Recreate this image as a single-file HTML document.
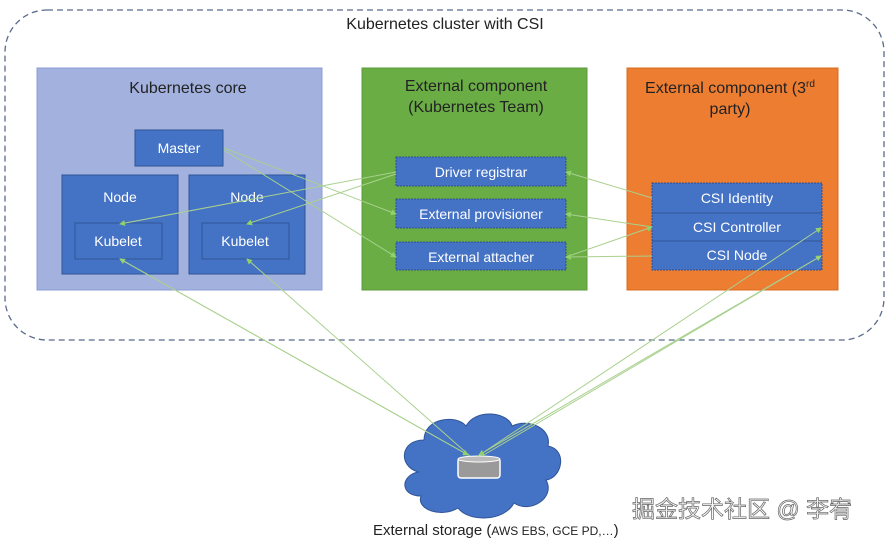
<!DOCTYPE html>
<html><head><meta charset="utf-8"><style>
html,body{margin:0;padding:0;background:#fff;}
svg{display:block;font-family:"Liberation Sans","Noto Sans CJK SC",sans-serif;}
</style></head><body>
<svg width="887" height="538" viewBox="0 0 887 538" xmlns="http://www.w3.org/2000/svg">
<defs>
<marker id="a" markerWidth="6" markerHeight="6" refX="5" refY="3" orient="auto"><path d="M0,0 L6,3 L0,6 z" fill="#8fd16a"/></marker>
</defs>
<rect x="5" y="10" width="879" height="330" rx="42" fill="none" stroke="#5a6a8a" stroke-width="1.3" stroke-dasharray="6,4"/>
<text x="445" y="29" text-anchor="middle" font-size="16" fill="#222">Kubernetes cluster with CSI</text>

<rect x="37" y="68" width="285" height="222" fill="#a2b1de" stroke="#8b9fd6"/>
<text x="188" y="93" text-anchor="middle" font-size="16" fill="#222">Kubernetes core</text>
<g fill="#4472c4" stroke="#2f5597">
<rect x="135" y="130" width="88" height="36"/>
<rect x="62" y="175" width="116" height="99"/>
<rect x="189" y="175" width="116" height="99"/>
<rect x="75" y="223" width="87" height="36"/>
<rect x="202" y="223" width="87" height="36"/>
</g>
<g fill="#fff" font-size="14" text-anchor="middle">
<text x="179" y="153">Master</text>
<text x="120" y="202">Node</text>
<text x="247" y="202">Node</text>
<text x="118" y="246">Kubelet</text>
<text x="245" y="246">Kubelet</text>
</g>

<rect x="362" y="68" width="225" height="222" fill="#6aad45" stroke="#5b9a3a"/>
<text x="476" y="91" text-anchor="middle" font-size="16" fill="#222">External component</text>
<text x="476" y="112" text-anchor="middle" font-size="16" fill="#222">(Kubernetes Team)</text>
<g fill="#4472c4" stroke="#2f4f8a" stroke-dasharray="2,1">
<rect x="396" y="157" width="170" height="29"/>
<rect x="396" y="199" width="170" height="29"/>
<rect x="396" y="242" width="170" height="28"/>
</g>
<g fill="#fff" font-size="14" text-anchor="middle">
<text x="481" y="177">Driver registrar</text>
<text x="481" y="219">External provisioner</text>
<text x="481" y="262">External attacher</text>
</g>

<rect x="627" y="68" width="211" height="222" fill="#ed7d31" stroke="#d86c20"/>
<text x="730" y="93" text-anchor="middle" font-size="16" fill="#222">External component (3<tspan font-size="10" dy="-6">rd</tspan></text>
<text x="730" y="114" text-anchor="middle" font-size="16" fill="#222">party)</text>
<rect x="652" y="183" width="170" height="87" fill="#4472c4" stroke="#2f4f8a" stroke-dasharray="2,1"/>
<line x1="652" y1="213" x2="822" y2="213" stroke="#2f5597"/>
<line x1="652" y1="241" x2="822" y2="241" stroke="#2f5597"/>
<g fill="#fff" font-size="14" text-anchor="middle">
<text x="737" y="203">CSI Identity</text>
<text x="737" y="232">CSI Controller</text>
<text x="737" y="260">CSI Node</text>
</g>

<g fill="#4472c4" stroke="#2f5597" stroke-width="1">
<path d="M418,472 C398,466 400,440 424,440 C424,418 456,414 466,426 C476,408 508,412 512,426 C528,418 552,428 548,446 C568,450 562,478 546,480 C556,498 530,514 514,503 C504,522 468,522 458,508 C442,518 416,510 421,496 C400,496 400,476 418,472 z"/>
</g>
<rect x="458" y="458" width="42" height="20" rx="3" fill="#9a9a9a" stroke="#fff" stroke-width="1.5"/>
<ellipse cx="479" cy="459" rx="21" ry="3" fill="#bbb" stroke="#fff"/>

<g stroke="#a9d18e" stroke-width="1" fill="none" marker-end="url(#a)">
<line x1="396" y1="172" x2="120" y2="224"/>
<line x1="396" y1="174" x2="247" y2="224"/>
<line x1="224" y1="148" x2="396" y2="214"/>
<line x1="224" y1="150" x2="396" y2="257"/>
<line x1="652" y1="198" x2="566" y2="172"/>
<line x1="652" y1="227" x2="566" y2="214"/>
<line x1="566" y1="257" x2="652" y2="227"/>
<line x1="652" y1="256" x2="566" y2="257"/>
<line x1="470" y1="456" x2="120" y2="259"/>
<line x1="470" y1="456" x2="247" y2="259"/>
<line x1="478" y1="456" x2="821" y2="228"/>
<line x1="482" y1="456" x2="821" y2="256"/>
<line x1="120" y1="259" x2="468" y2="455"/>
<line x1="821" y1="256" x2="479" y2="455"/>
</g>

<text x="373" y="535" font-size="15" fill="#222">External storage (<tspan font-size="12">AWS EBS, GCE PD,…</tspan>)</text>
<text x="632" y="517" font-size="23" fill="#f6f6f6" stroke="#666" stroke-width="0.7">掘金技术社区 @ 李宥</text>
</svg>
</body></html>
